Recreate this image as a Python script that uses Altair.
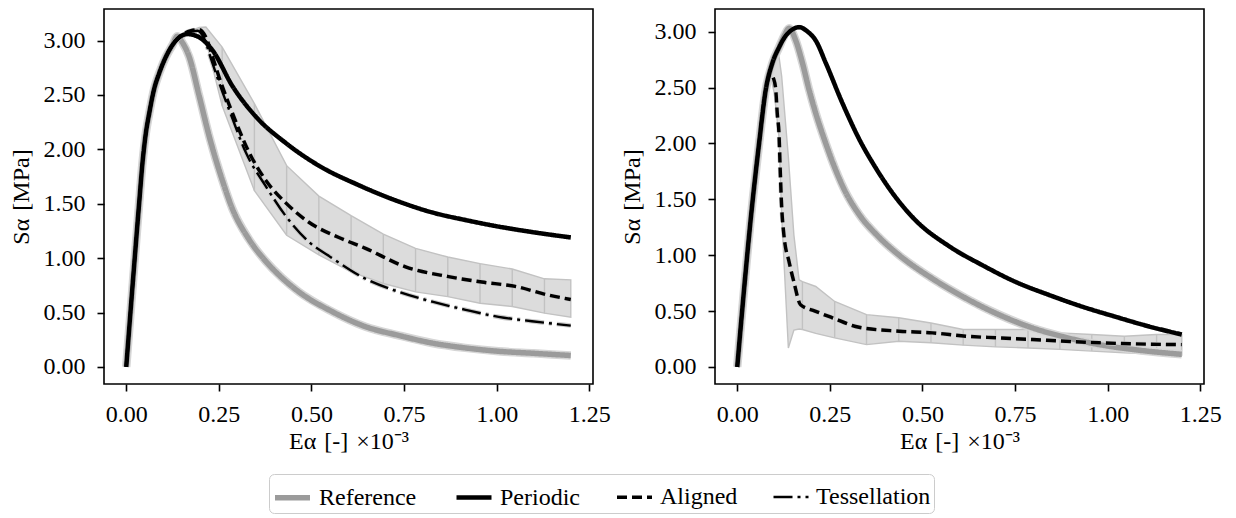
import altair as alt
import pandas as pd

FONT = "Liberation Serif"
SERIES = ["Reference", "Periodic", "Aligned", "Tessellation"]

# ---------------- left panel ----------------
L_ref_x = [0.0, 0.035, 0.044, 0.053, 0.062, 0.075, 0.089, 0.107, 0.125, 0.138, 0.150, 0.170, 0.197, 0.224, 0.259, 0.287, 0.330, 0.377, 0.420, 0.466, 0.555, 0.646, 0.735, 0.825, 0.915, 1.005, 1.100, 1.200]
L_ref_y = [0.0, 1.51, 1.88, 2.15, 2.33, 2.55, 2.70, 2.85, 2.96, 3.04, 2.99, 2.85, 2.49, 2.12, 1.72, 1.45, 1.18, 0.97, 0.82, 0.69, 0.51, 0.37, 0.29, 0.22, 0.175, 0.144, 0.125, 0.105]

L_per_x = [0.0, 0.035, 0.044, 0.053, 0.062, 0.075, 0.089, 0.107, 0.125, 0.140, 0.165, 0.197, 0.233, 0.287, 0.350, 0.430, 0.520, 0.628, 0.736, 0.826, 0.916, 1.005, 1.095, 1.200]
L_per_y = [0.0, 1.51, 1.88, 2.15, 2.33, 2.55, 2.70, 2.85, 2.96, 3.02, 3.06, 3.03, 2.91, 2.58, 2.30, 2.06, 1.85, 1.67, 1.52, 1.42, 1.35, 1.29, 1.24, 1.19]

L_ali_x = [0.0, 0.035, 0.044, 0.053, 0.062, 0.075, 0.089, 0.107, 0.125, 0.150, 0.175, 0.197, 0.215, 0.233, 0.250, 0.287, 0.332, 0.380, 0.430, 0.493, 0.574, 0.646, 0.754, 0.870, 0.960, 1.050, 1.140, 1.200]
L_ali_y = [0.0, 1.51, 1.88, 2.15, 2.33, 2.55, 2.70, 2.85, 2.96, 3.05, 3.09, 3.10, 3.03, 2.85, 2.67, 2.33, 1.97, 1.70, 1.51, 1.33, 1.19, 1.09, 0.92, 0.83, 0.78, 0.74, 0.66, 0.62]

L_tes_x = [0.0, 0.035, 0.044, 0.053, 0.062, 0.075, 0.089, 0.107, 0.125, 0.150, 0.175, 0.193, 0.210, 0.230, 0.250, 0.287, 0.323, 0.377, 0.430, 0.493, 0.556, 0.646, 0.736, 0.826, 0.916, 1.005, 1.095, 1.200]
L_tes_y = [0.0, 1.51, 1.88, 2.15, 2.33, 2.55, 2.70, 2.85, 2.96, 3.04, 3.08, 3.09, 3.02, 2.82, 2.62, 2.28, 1.97, 1.66, 1.39, 1.15, 1.00, 0.81, 0.69, 0.60, 0.525, 0.46, 0.42, 0.38]

L_band_x = [0.150, 0.173, 0.197, 0.215, 0.259, 0.346, 0.433, 0.520, 0.607, 0.694, 0.781, 0.868, 0.955, 1.042, 1.129, 1.200]
L_band_hi = [3.04, 3.09, 3.12, 3.125, 2.94, 2.42, 1.85, 1.57, 1.39, 1.22, 1.09, 1.01, 0.95, 0.90, 0.81, 0.80]
L_band_lo = [3.02, 3.06, 3.08, 3.00, 2.40, 1.62, 1.21, 1.03, 0.874, 0.767, 0.69, 0.646, 0.585, 0.555, 0.494, 0.457]
L_vline_x = [0.259, 0.346, 0.433, 0.520, 0.607, 0.694, 0.781, 0.868, 0.955, 1.042, 1.129]

# ---------------- right panel ----------------
R_ref_x = [0.0, 0.041, 0.059, 0.077, 0.095, 0.113, 0.128, 0.140, 0.158, 0.176, 0.194, 0.212, 0.239, 0.266, 0.290, 0.330, 0.380, 0.437, 0.527, 0.617, 0.707, 0.797, 0.887, 0.977, 1.090, 1.200]
R_ref_y = [0.0, 1.47, 2.00, 2.48, 2.72, 2.86, 2.97, 3.03, 2.92, 2.72, 2.48, 2.27, 2.00, 1.76, 1.58, 1.36, 1.17, 1.00, 0.79, 0.615, 0.467, 0.349, 0.265, 0.20, 0.148, 0.113]

R_per_x = [0.0, 0.041, 0.059, 0.077, 0.095, 0.113, 0.128, 0.145, 0.167, 0.190, 0.212, 0.239, 0.284, 0.329, 0.374, 0.425, 0.482, 0.572, 0.662, 0.752, 0.841, 0.931, 1.020, 1.110, 1.200]
R_per_y = [0.0, 1.47, 2.00, 2.48, 2.72, 2.86, 2.95, 3.01, 3.04, 3.00, 2.92, 2.72, 2.36, 2.04, 1.78, 1.53, 1.31, 1.08, 0.91, 0.76, 0.645, 0.54, 0.45, 0.364, 0.29]

R_ali_x = [0.0, 0.041, 0.059, 0.077, 0.090, 0.098, 0.104, 0.108, 0.113, 0.116, 0.119, 0.126, 0.140, 0.153, 0.171, 0.210, 0.257, 0.329, 0.437, 0.527, 0.617, 0.707, 0.797, 0.887, 0.977, 1.066, 1.200]
R_ali_y = [0.0, 1.47, 2.00, 2.48, 2.62, 2.58, 2.48, 2.27, 2.07, 1.77, 1.50, 1.18, 0.94, 0.76, 0.556, 0.50, 0.44, 0.355, 0.32, 0.305, 0.275, 0.26, 0.245, 0.23, 0.216, 0.207, 0.20]

R_band_x = [0.090, 0.100, 0.113, 0.120, 0.138, 0.153, 0.167, 0.176, 0.212, 0.263, 0.349, 0.436, 0.523, 0.610, 0.697, 0.785, 0.871, 0.957, 1.045, 1.132, 1.200]
R_band_hi = [2.64, 2.74, 2.77, 2.60, 1.88, 1.18, 0.78, 0.763, 0.72, 0.586, 0.468, 0.44, 0.393, 0.335, 0.335, 0.335, 0.305, 0.29, 0.275, 0.29, 0.29]
R_band_lo = [2.60, 2.45, 2.05, 1.35, 0.17, 0.33, 0.34, 0.335, 0.30, 0.26, 0.20, 0.23, 0.216, 0.195, 0.18, 0.17, 0.157, 0.142, 0.127, 0.113, 0.106]
R_vline_x = [0.176, 0.263, 0.349, 0.436, 0.523, 0.610, 0.697, 0.785, 0.871, 0.957, 1.045, 1.132]

X_TICKS = [0.0, 0.25, 0.5, 0.75, 1.0, 1.25]
Y_TICKS = [0.0, 0.5, 1.0, 1.5, 2.0, 2.5, 3.0]
L_YDOM = [-0.157, 3.29]
R_YDOM = [-0.1525, 3.2025]
X_DOM = [-0.06, 1.26]
X_TITLE = "Eα\u2004[-]\u2004×10⁻³"
Y_TITLE = "Sα\u2004[MPa]"


def lines_frame(parts):
    rows = []
    for name, xs, ys in parts:
        for i, (a, b) in enumerate(zip(xs, ys)):
            rows.append({"series": name, "x": a, "y": b, "order": i})
    return pd.DataFrame(rows)


def band_frame(xs, lo, hi, vx):
    return pd.DataFrame({"x": xs, "lo": lo, "hi": hi,
                         "vline": [1 if v in vx else 0 for v in xs]})


color_scale = alt.Scale(domain=SERIES, range=["#9b9b9b", "black", "black", "black"])
dash_scale = alt.Scale(domain=SERIES, range=[[1, 0], [1, 0], [10, 5], [19, 5, 3, 5]])
width_scale = alt.Scale(domain=SERIES, range=[5.5, 2.4, 2.4, 2.4])

legend = alt.Legend(
    title=None, orient="none", legendX=165, legendY=465,
    direction="horizontal", symbolType="stroke", symbolSize=1225,
    labelFont=FONT, labelFontSize=24, labelColor="black", labelOffset=6,
    columnPadding=30, padding=3, strokeColor="#cccccc", cornerRadius=5,
    fillColor="white", labelLimit=0,
)


def panel(lines, band, ydom):
    xs = alt.Scale(domain=X_DOM, nice=False, zero=False)
    ys = alt.Scale(domain=ydom, nice=False, zero=False)
    xax = alt.Axis(values=X_TICKS, format=".2f", title=X_TITLE,
                   labelPadding=11, titlePadding=3)
    yax = alt.Axis(values=Y_TICKS, format=".2f", title=Y_TITLE,
                   labelPadding=12, titlePadding=10)
    X = alt.X("x:Q", scale=xs, axis=xax)
    Yl = alt.Y("y:Q", scale=ys, axis=yax)
    Yb = alt.Y("lo:Q", scale=ys, axis=yax)

    area = alt.Chart(band).mark_area(fill="#dcdcdc", stroke="#c2c2c2", strokeWidth=1.4).encode(
        x=X, y=Yb, y2="hi:Q")
    vlines = alt.Chart(band).transform_filter("datum.vline == 1").mark_rule(
        color="#c2c2c2", strokeWidth=1.4).encode(x=X, y=Yb, y2="hi:Q")

    ref = alt.Chart(lines).transform_filter("datum.series == 'Reference'")
    oth = alt.Chart(lines).transform_filter("datum.series != 'Reference'")
    lk = dict(strokeCap="butt", strokeJoin="round", interpolate="monotone")

    ref_halo = ref.mark_line(color="#d6d6d6", strokeWidth=8.5, **lk).encode(
        x=X, y=Yl, detail="series:N", order="order:Q")
    ref_line = ref.mark_line(**lk).encode(
        x=X, y=Yl, order="order:Q",
        color=alt.Color("series:N", scale=color_scale, legend=legend),
        strokeDash=alt.StrokeDash("series:N", scale=dash_scale, legend=legend),
        strokeWidth=alt.StrokeWidth("series:N", scale=width_scale, legend=legend))
    oth_halo = oth.mark_line(color="#cbcbcb", strokeWidth=4.6, **lk).encode(
        x=X, y=Yl, detail="series:N", order="order:Q",
        strokeDash=alt.StrokeDash("series:N", scale=dash_scale, legend=None))
    oth_line = oth.mark_line(**lk).encode(
        x=X, y=Yl, order="order:Q",
        color=alt.Color("series:N", scale=color_scale, legend=legend),
        strokeDash=alt.StrokeDash("series:N", scale=dash_scale, legend=legend),
        strokeWidth=alt.StrokeWidth("series:N", scale=width_scale, legend=legend))

    return alt.layer(area, vlines, ref_halo, ref_line, oth_halo, oth_line).properties(
        width=489, height=375)


left_lines = lines_frame([("Reference", L_ref_x, L_ref_y), ("Periodic", L_per_x, L_per_y),
                          ("Aligned", L_ali_x, L_ali_y), ("Tessellation", L_tes_x, L_tes_y)])
right_lines = lines_frame([("Reference", R_ref_x, R_ref_y), ("Periodic", R_per_x, R_per_y),
                           ("Aligned", R_ali_x, R_ali_y)])

left = panel(left_lines, band_frame(L_band_x, L_band_lo, L_band_hi, L_vline_x), L_YDOM)
right = panel(right_lines, band_frame(R_band_x, R_band_lo, R_band_hi, R_vline_x), R_YDOM)

chart = alt.hconcat(left, right, spacing=122).properties(
    bounds="flush",
    padding={"left": 0, "top": 0, "right": 0, "bottom": 0},
).resolve_scale(
    color="shared", strokeDash="shared", strokeWidth="shared"
).configure(
    font=FONT
).configure_view(
    stroke="black", strokeWidth=1.6
).configure_axis(
    domain=False, grid=False, ticks=True, tickColor="black", tickWidth=1.6, tickSize=7,
    labelFont=FONT, labelFontSize=24, labelColor="black",
    titleFont=FONT, titleFontSize=24, titleColor="black", titleFontWeight="normal",
).configure_legend(
    labelFont=FONT, labelFontSize=24, labelColor="black",
)

chart.save("out.html", embed_options={"renderer": "svg", "actions": False})
